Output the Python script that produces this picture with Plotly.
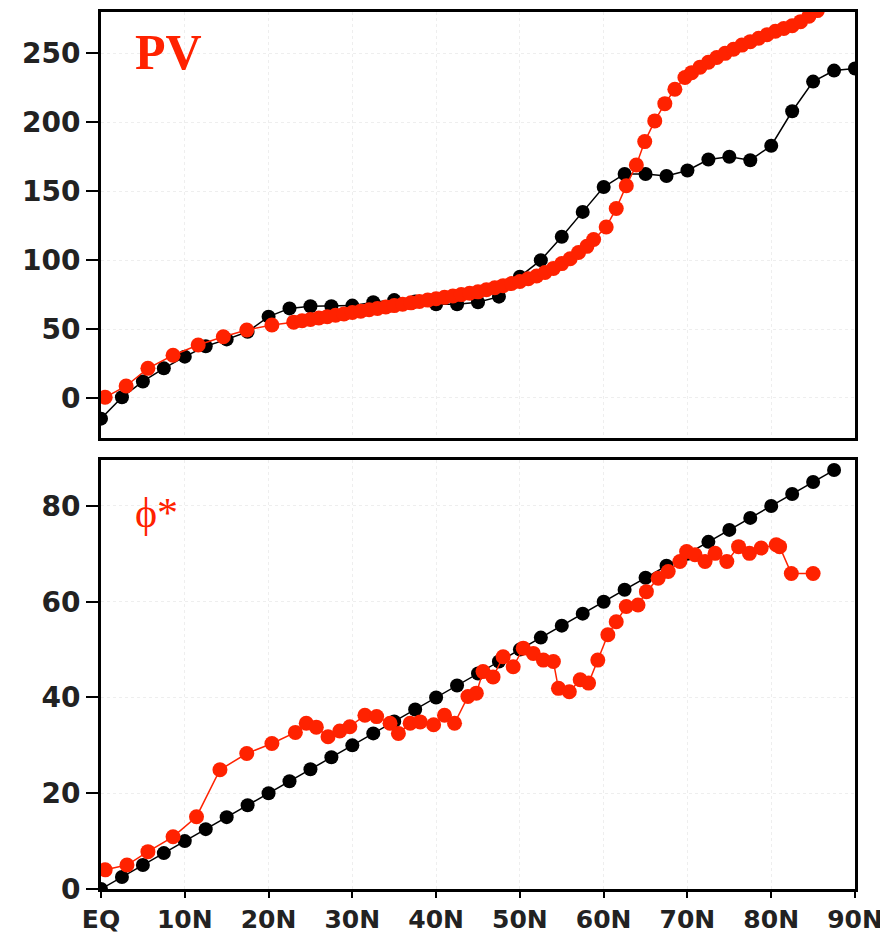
import plotly.graph_objects as go

# ---------------- data ----------------
lat_black = [0, 2.5, 5, 7.5, 10, 12.5, 15, 17.5, 20, 22.5, 25, 27.5, 30, 32.5, 35, 37.5,
             40, 42.5, 45, 47.5, 50, 52.5, 55, 57.5, 60, 62.5, 65, 67.5, 70, 72.5, 75,
             77.5, 80, 82.5, 85, 87.5, 90]
pv_black = [-15, 0.5, 12, 21.5, 30, 37.5, 42.5, 48, 59, 65, 66.5, 66.5, 67, 69.5, 71, 70,
            68, 68, 69.5, 73.5, 88, 100, 117, 135, 153, 162.5, 162.5, 161, 165, 173, 175,
            172.5, 183, 208, 229.5, 237.5, 239]

lat_pv_red = [0.5, 3.0, 5.6, 8.6, 11.6, 14.6, 17.4, 20.4, 23.0, 24, 25, 26, 27, 28, 29, 30,
              31, 32, 33, 34, 35, 36, 37, 38, 39, 40, 41, 42, 43, 44, 45, 46, 47, 48, 49,
              50, 51, 52, 53, 54, 55, 56, 57, 58, 58.8, 60.3, 61.5, 62.7, 63.9, 64.9, 66.1,
              67.3, 68.5, 69.7, 70.5, 71.5, 72.5, 73.5, 74.5, 75.5, 76.5, 77.5, 78.5, 79.5,
              80.5, 81.5, 82.5, 83.5, 84.5, 85.5]
pv_red = [0.5, 8.7, 21.5, 31, 38.4, 44.4, 49.3, 52.9, 55, 56, 57, 58, 59, 60, 61, 62,
          63, 64, 65, 66, 67, 68, 69, 70, 71, 72, 73, 74, 75, 76, 77, 78.5, 80, 81.5, 83,
          84.5, 86.5, 88.5, 91, 94, 97.5, 101, 105.5, 110, 115, 124, 137.5, 154, 169, 186, 201,
          213.5, 224, 232.5, 236, 240, 243.5, 247, 250, 253, 256, 258.5, 261, 263.5,
          266, 268, 270, 273, 277, 281]

lat_phi_black = [0, 2.5, 5, 7.5, 10, 12.5, 15, 17.5, 20, 22.5, 25, 27.5, 30, 32.5, 35, 37.5,
                 40, 42.5, 45, 47.5, 50, 52.5, 55, 57.5, 60, 62.5, 65, 67.5, 70, 72.5, 75,
                 77.5, 80, 82.5, 85, 87.5]
phi_black = [0, 2.5, 5, 7.5, 10, 12.5, 15, 17.5, 20, 22.5, 25, 27.5, 30, 32.5, 35, 37.5,
             40, 42.5, 45, 47.5, 50, 52.5, 55, 57.5, 60, 62.5, 65, 67.5, 70, 72.5, 75,
             77.5, 80, 82.5, 85, 87.5]

lat_phi_red = [0.5, 3.1, 5.6, 8.6, 11.4, 14.2, 17.4, 20.4, 23.2, 24.5, 25.7, 27.1, 28.5, 29.7,
               31.5, 32.9, 34.5, 35.5, 36.9, 38.1, 39.7, 41.0, 42.2, 43.8, 44.8, 45.6, 46.8,
               48.0, 49.2, 50.4, 51.6, 52.8, 54.0, 54.6, 55.9, 57.2, 58.2, 59.3, 60.5, 61.5,
               62.7, 64.1, 65.1, 66.5, 67.7, 69.1, 69.9, 70.9, 72.1, 73.3, 74.7, 76.1, 77.4,
               78.8, 80.6, 81.0, 82.4, 85.0]
phi_red = [4.0, 5.0, 7.8, 10.9, 15.1, 24.9, 28.3, 30.4, 32.7, 34.6, 33.8, 31.8, 33.0, 33.9,
           36.3, 36.0, 34.6, 32.5, 34.6, 34.9, 34.3, 36.3, 34.6, 40.2, 40.9, 45.4, 44.3,
           48.5, 46.4, 50.3, 49.2, 47.8, 47.5, 41.9, 41.2, 43.7, 43.0, 47.8, 53.1, 55.8,
           59.0, 59.3, 62.1, 64.9, 66.3, 68.4, 70.5, 69.8, 68.4, 70.1, 68.4, 71.5, 70.1,
           71.2, 71.9, 71.5, 65.9, 65.9]

x_tickvals = [0, 10, 20, 30, 40, 50, 60, 70, 80, 90]
x_ticktext = ["EQ", "10N", "20N", "30N", "40N", "50N", "60N", "70N", "80N", "90N"]
pv_ticks = [0, 50, 100, 150, 200, 250]
phi_ticks = [0, 20, 40, 60, 80]

RED = "#ff2200"
BLACK = "#000000"

fig = go.Figure()

# top panel
fig.add_trace(go.Scatter(x=lat_black, y=pv_black, mode="lines+markers",
                         line=dict(color=BLACK, width=1.5),
                         marker=dict(color=BLACK, size=14),
                         xaxis="x", yaxis="y", showlegend=False, cliponaxis=True))
fig.add_trace(go.Scatter(x=lat_pv_red, y=pv_red, mode="lines+markers",
                         line=dict(color=RED, width=1.5),
                         marker=dict(color=RED, size=15),
                         xaxis="x", yaxis="y", showlegend=False, cliponaxis=True))
# bottom panel
fig.add_trace(go.Scatter(x=lat_phi_black, y=phi_black, mode="lines+markers",
                         line=dict(color=BLACK, width=1.5),
                         marker=dict(color=BLACK, size=14),
                         xaxis="x2", yaxis="y2", showlegend=False, cliponaxis=True))
fig.add_trace(go.Scatter(x=lat_phi_red, y=phi_red, mode="lines+markers",
                         line=dict(color=RED, width=1.5),
                         marker=dict(color=RED, size=15),
                         xaxis="x2", yaxis="y2", showlegend=False, cliponaxis=True))

ytickfont = dict(family="DejaVu Sans", size=28, color="#222222", weight="bold")
xtickfont = dict(family="DejaVu Sans", size=25, color="#222222", weight="bold")
common_axis = dict(showline=True, linecolor=BLACK, linewidth=3, mirror=True,
                   showgrid=True, gridcolor="#eeeeee", griddash="dot", gridwidth=1,
                   zeroline=False, automargin=False)

# the page body adds an 8 px offset, so the figure is sized/margined to compensate
fig.update_layout(
    width=880, height=925,
    margin=dict(l=93, r=33, t=4, b=44, autoexpand=False),
    paper_bgcolor="white", plot_bgcolor="white",
    xaxis=dict(domain=[0, 1], anchor="y", range=[0, 90], tickvals=x_tickvals,
               showticklabels=False, ticks="", **common_axis),
    yaxis=dict(domain=[0.5143, 1], anchor="x", range=[-29, 280], tickvals=pv_ticks,
               ticks="outside", ticklen=12, tickwidth=2, tickcolor=BLACK,
               tickfont=ytickfont, **common_axis),
    xaxis2=dict(domain=[0, 1], anchor="y2", range=[0, 90], tickvals=x_tickvals,
                ticktext=x_ticktext, ticks="outside", ticklen=6, tickwidth=2,
                tickcolor=BLACK, tickfont=xtickfont, **common_axis),
    yaxis2=dict(domain=[0, 0.4892], anchor="x2", range=[0, 89.6], tickvals=phi_ticks,
                ticks="outside", ticklen=12, tickwidth=2, tickcolor=BLACK,
                tickfont=ytickfont, **common_axis),
    annotations=[
        dict(text="<b>PV</b>", x=8.0, y=251, xref="x", yref="y", showarrow=False,
             xanchor="center", yanchor="middle",
             font=dict(family="Liberation Serif", size=50, color=RED)),
        dict(text="ϕ*", x=6.6, y=78.5, xref="x2", yref="y2", showarrow=False,
             xanchor="center", yanchor="middle",
             font=dict(family="Liberation Serif", size=42, color=RED)),
    ],
)

fig.write_html("out.html")
